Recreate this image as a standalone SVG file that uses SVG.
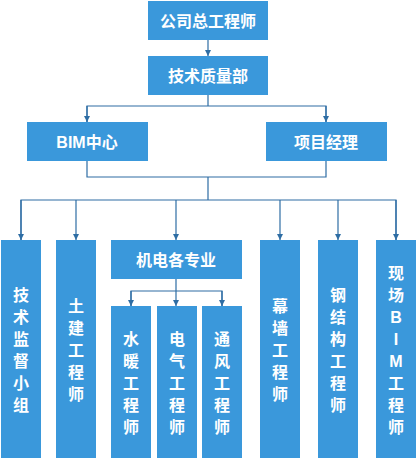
<svg xmlns="http://www.w3.org/2000/svg" width="416" height="458" viewBox="0 0 416 458">
<defs>
<style>
.box{fill:#3A98DB;}
.t{fill:#FFFFFF;font-family:"Liberation Sans","Noto Sans CJK SC",sans-serif;font-weight:bold;font-size:16px;text-anchor:middle;dominant-baseline:central;}
.c{fill:none;stroke:#2E6DA4;stroke-width:1.2;}
</style>
<marker id="ah" viewBox="0 0 10 10" refX="10" refY="5" markerWidth="6" markerHeight="6" markerUnits="userSpaceOnUse" orient="auto">
<path d="M0,0 L10,5 L0,10 z" fill="#2E6DA4"/>
</marker>
</defs>
<rect width="416" height="458" fill="#FFFFFF"/>
<g id="connectors">
<path class="c" d="M208,40 V56" marker-end="url(#ah)"/>
<path class="c" d="M208,95 V106 M87,122 V106 H326 V122"/>
<path class="c" d="M87,106 V122" marker-end="url(#ah)"/>
<path class="c" d="M326,106 V122" marker-end="url(#ah)"/>
<path class="c" d="M87,161 V177 H326 V161 M208,177 V200"/>
<path class="c" d="M21,240 V200 H396 V240"/>
<path class="c" d="M21,200 V240" marker-end="url(#ah)"/>
<path class="c" d="M76,200 V240" marker-end="url(#ah)"/>
<path class="c" d="M176,200 V240" marker-end="url(#ah)"/>
<path class="c" d="M280,200 V240" marker-end="url(#ah)"/>
<path class="c" d="M338,200 V240" marker-end="url(#ah)"/>
<path class="c" d="M396,200 V240" marker-end="url(#ah)"/>
<path class="c" d="M176,279 V291 M131,306 V291 H222 V306"/>
<path class="c" d="M131,291 V306" marker-end="url(#ah)"/>
<path class="c" d="M176,291 V306" marker-end="url(#ah)"/>
<path class="c" d="M222,291 V306" marker-end="url(#ah)"/>
</g>
<g id="n_chief"><rect class="box" x="148" y="1" width="120" height="39"/><text class="t" x="208" y="21">公司总工程师</text></g>
<g id="n_tech"><rect class="box" x="148" y="56" width="120" height="39"/><text class="t" x="208" y="76">技术质量部</text></g>
<g id="n_bim"><rect class="box" x="27" y="122" width="121" height="39"/><text class="t" x="87" y="142">BIM中心</text></g>
<g id="n_pm"><rect class="box" x="266" y="122" width="121" height="39"/><text class="t" x="326" y="142">项目经理</text></g>
<g id="n_sup"><rect class="box" x="1" y="240" width="40" height="218"/>
<text class="t"><tspan x="21" y="295">技</tspan><tspan x="21" y="317">术</tspan><tspan x="21" y="339">监</tspan><tspan x="21" y="361">督</tspan><tspan x="21" y="383">小</tspan><tspan x="21" y="405">组</tspan></text></g>
<g id="n_civil"><rect class="box" x="56" y="240" width="40" height="218"/>
<text class="t"><tspan x="76" y="306">土</tspan><tspan x="76" y="328">建</tspan><tspan x="76" y="350">工</tspan><tspan x="76" y="372">程</tspan><tspan x="76" y="394">师</tspan></text></g>
<g id="n_mep"><rect class="box" x="111" y="240" width="131" height="39"/><text class="t" x="176" y="260">机电各专业</text></g>
<g id="n_water"><rect class="box" x="111" y="306" width="40" height="152"/>
<text class="t"><tspan x="131" y="339">水</tspan><tspan x="131" y="361">暖</tspan><tspan x="131" y="383">工</tspan><tspan x="131" y="405">程</tspan><tspan x="131" y="427">师</tspan></text></g>
<g id="n_elec"><rect class="box" x="157" y="306" width="40" height="152"/>
<text class="t"><tspan x="177" y="339">电</tspan><tspan x="177" y="361">气</tspan><tspan x="177" y="383">工</tspan><tspan x="177" y="405">程</tspan><tspan x="177" y="427">师</tspan></text></g>
<g id="n_hvac"><rect class="box" x="202" y="306" width="40" height="152"/>
<text class="t"><tspan x="222" y="339">通</tspan><tspan x="222" y="361">风</tspan><tspan x="222" y="383">工</tspan><tspan x="222" y="405">程</tspan><tspan x="222" y="427">师</tspan></text></g>
<g id="n_curtain"><rect class="box" x="260" y="240" width="40" height="218"/>
<text class="t"><tspan x="280" y="306">幕</tspan><tspan x="280" y="328">墙</tspan><tspan x="280" y="350">工</tspan><tspan x="280" y="372">程</tspan><tspan x="280" y="394">师</tspan></text></g>
<g id="n_steel"><rect class="box" x="318" y="240" width="40" height="218"/>
<text class="t"><tspan x="338" y="295">钢</tspan><tspan x="338" y="317">结</tspan><tspan x="338" y="339">构</tspan><tspan x="338" y="361">工</tspan><tspan x="338" y="383">程</tspan><tspan x="338" y="405">师</tspan></text></g>
<g id="n_sitebim"><rect class="box" x="376" y="240" width="40" height="218"/>
<text class="t"><tspan x="396" y="273">现</tspan><tspan x="396" y="295">场</tspan><tspan x="396" y="317">B</tspan><tspan x="396" y="339">I</tspan><tspan x="396" y="361">M</tspan><tspan x="396" y="383">工</tspan><tspan x="396" y="405">程</tspan><tspan x="396" y="427">师</tspan></text></g>
</svg>
